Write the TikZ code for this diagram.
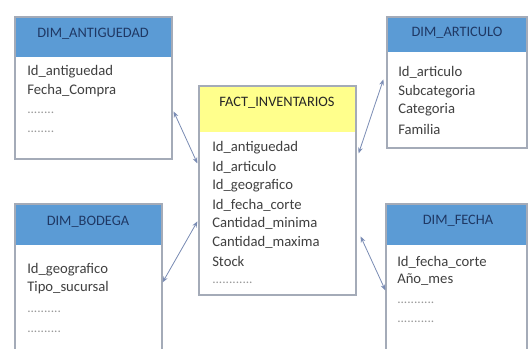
\documentclass[tikz,border=0pt]{standalone}
\usepackage{fontspec}
\setmainfont{Carlito}
\usetikzlibrary{arrows.meta,calc,fit}
\definecolor{hdrblue}{HTML}{5B9BD5}
\definecolor{hdrtext}{HTML}{1F3864}
\definecolor{facty}{HTML}{FFFF8C}
\definecolor{boxline}{HTML}{A4ABB8}
\definecolor{itemtext}{HTML}{404040}
\definecolor{conn}{HTML}{7A8CB4}
\begin{document}
\begin{tikzpicture}[x=0.75pt,y=-0.75pt,
 box/.style={draw=boxline, line width=0.9pt, inner sep=0pt},
 hdr/.style={fill=hdrblue, draw=none, inner sep=0pt},
 facthdr/.style={fill=facty, draw=none, inner sep=0pt},
 hdrlabel/.style={text=hdrtext, font=\fontsize{10.8}{12}\selectfont, inner sep=0pt},
 facthdrlabel/.style={text=black!85, font=\fontsize{10.8}{12}\selectfont, inner sep=0pt},
 item/.style={anchor=west, text=itemtext, font=\fontsize{11}{12}\selectfont, inner sep=0pt},
 dotrow/.style={anchor=base west, text=gray!80, font=\fontsize{10}{12}\selectfont, inner sep=0pt},
 link/.style={draw=conn, line width=0.6pt, {Stealth[length=4.5pt,width=3.5pt]}-{Stealth[length=4.5pt,width=3.5pt]}}]
\useasboundingbox (0,0) rectangle (529,349);
\clip (0,0) rectangle (529,349);
\fill[white] (0,0) rectangle (529,349);

% DIM_ANTIGUEDAD
\node[hdr, fit={(15,17) (172,57)}] (anth) {};
\node[box, fit={(15,17) (172,159)}] (ant) {};
\node[hdrlabel] (antt) at (93,34) {DIM\_ANTIGUEDAD};
\node[item] (ant1) at (27,72) {Id\_antiguedad};
\node[item] (ant2) at (27,91) {Fecha\_Compra};
\node[dotrow] (ant3) at (27,114) {........};
\node[dotrow] (ant4) at (27,133) {........};

% DIM_ARTICULO
\node[hdr, fit={(387,17) (527,52)}] (arth) {};
\node[box, fit={(387,17) (527,148)}] (art) {};
\node[hdrlabel] (artt) at (457,33) {DIM\_ARTICULO};
\node[item] (art1) at (398,72) {Id\_articulo};
\node[item] (art2) at (398,92) {Subcategoria};
\node[item] (art3) at (398,110) {Categoria};
\node[item] (art4) at (398,129) {Familia};

% FACT_INVENTARIOS
\node[facthdr, fit={(199,86) (356,132)}] (facth) {};
\node[box, fit={(199,86) (356,295)}] (fact) {};
\node[facthdrlabel] (factt) at (277,103) {FACT\_INVENTARIOS};
\node[item] (f1) at (212,148) {Id\_antiguedad};
\node[item] (f2) at (212,167) {Id\_articulo};
\node[item] (f3) at (212,186) {Id\_geografico};
\node[item] (f4) at (212,205) {Id\_fecha\_corte};
\node[item] (f5) at (212,223) {Cantidad\_minima};
\node[item] (f6) at (212,242) {Cantidad\_maxima};
\node[item] (f7) at (212,261) {Stock};
\node[dotrow] (f8) at (212,284) {............};

% DIM_BODEGA
\node[hdr, fit={(15,204) (162,245)}] (bodh) {};
\node[box, fit={(15,204) (162,360)}] (bod) {};
\node[hdrlabel] (bodt) at (88,222) {DIM\_BODEGA};
\node[item] (b1) at (27,270) {Id\_geografico};
\node[item] (b2) at (27,288) {Tipo\_sucursal};
\node[dotrow] (b3) at (27,313) {..........};
\node[dotrow] (b4) at (27,333) {..........};

% DIM_FECHA
\node[hdr, fit={(386,204) (527,245)}] (fech) {};
\node[box, fit={(386,204) (527,360)}] (fec) {};
\node[hdrlabel] (fect) at (458,221) {DIM\_FECHA};
\node[item] (d1) at (397,262) {Id\_fecha\_corte};
\node[item] (d2) at (397,280) {Año\_mes};
\node[dotrow] (d3) at (397,304) {...........};
\node[dotrow] (d4) at (397,323) {...........};

% connectors
\draw[link] ($(ant.north east)+(1,95)$) -- ($(fact.north west)+(-1,78)$);
\draw[link] ($(bod.north east)+(0,79)$) -- ($(fact.north west)+(-1,136)$);
\draw[link] ($(fact.north east)+(2,68)$) -- ($(art.north west)+(-3,63)$);
\draw[link] ($(fact.north east)+(4,151)$) -- ($(fec.north west)+(0,87)$);
\end{tikzpicture}
\end{document}
